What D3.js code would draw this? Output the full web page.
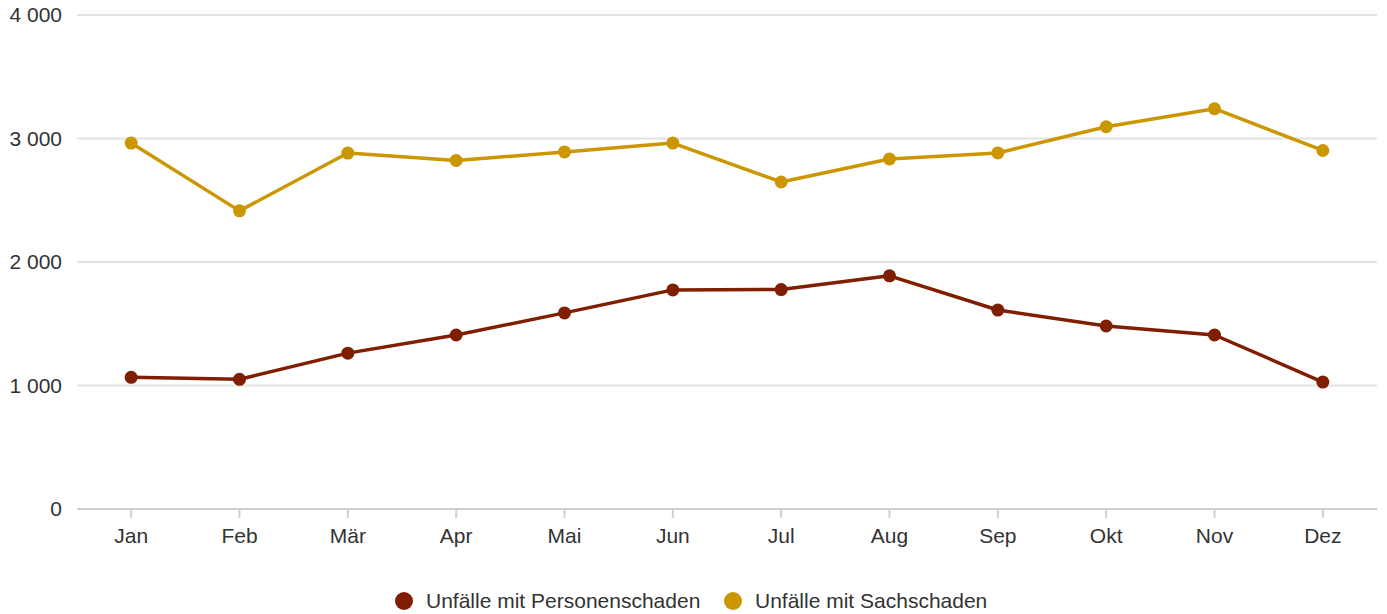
<!DOCTYPE html>
<html>
<head>
<meta charset="utf-8">
<script src="https://cdn.jsdelivr.net/npm/d3@7"></script>
<style>
  body { margin: 0; background: #fff; }
  svg text { font-family: "Liberation Sans", Arial, sans-serif; fill: #333; }
</style>
</head>
<body>
<svg id="chart" width="1387" height="614"></svg>
<script>
// months and series values
var months = ["Jan", "Feb", "Mär", "Apr", "Mai", "Jun", "Jul", "Aug", "Sep", "Okt", "Nov", "Dez"];
var personen = [1066, 1050, 1262, 1409, 1588, 1774, 1777, 1888, 1611, 1482, 1409, 1028];
var sach = [2963, 2414, 2882, 2822, 2891, 2963, 2648, 2834, 2883, 3095, 3241, 2903];
var seriesNames = ["Unfälle mit Personenschaden", "Unfälle mit Sachschaden"];
var seriesColors = ["#7f1e00", "#cc9600"];
var yTicks = [0, 1000, 2000, 3000, 4000];

var svg = d3.select("#chart");
var margin = {top: 15, right: 10, bottom: 105, left: 77},
    width = 1387 - margin.left - margin.right,
    height = 614 - margin.top - margin.bottom;

var g = svg.append("g").attr("transform", "translate(" + margin.left + "," + margin.top + ")");

var x = d3.scaleBand().domain(months).range([0, width]);
var y = d3.scaleLinear().domain([0, 4000]).range([height, 0]);

var fmt = function(d) { return d3.format(",")(d).replace(/,/g, " "); };

// gridlines
g.selectAll(".grid")
    .data(yTicks.filter(function(d) { return d > 0; }))
    .enter().append("line")
    .attr("class", "grid")
    .attr("x1", 0).attr("x2", width)
    .attr("y1", function(d) { return y(d); })
    .attr("y2", function(d) { return y(d); })
    .attr("stroke", "#e3e3e3")
    .attr("stroke-width", 2);

// y axis labels
var yAxis = g.append("g")
    .call(d3.axisLeft(y).tickValues(yTicks).tickFormat(fmt).tickSize(0).tickPadding(15));
yAxis.select(".domain").remove();
yAxis.selectAll("text").style("font-size", "21px").attr("fill", "#333");

// x axis
var xAxis = g.append("g")
    .attr("transform", "translate(0," + height + ")")
    .call(d3.axisBottom(x).tickSize(9).tickPadding(10));
xAxis.select(".domain").attr("stroke", "#cfcfcf").attr("stroke-width", 2).attr("d", "M0,0H" + width);
xAxis.selectAll(".tick line").attr("stroke", "#cfcfcf").attr("stroke-width", 2);
xAxis.selectAll("text").style("font-size", "21px").attr("fill", "#333");

// lines and points
var cx = function(d, i) { return x(months[i]) + x.bandwidth() / 2; };
var line = d3.line().x(cx).y(function(d) { return y(d); });

[personen, sach].forEach(function(values, k) {
    g.append("path")
        .datum(values)
        .attr("fill", "none")
        .attr("stroke", seriesColors[k])
        .attr("stroke-width", 3.5)
        .attr("stroke-linejoin", "round")
        .attr("d", line);

    g.selectAll(".dot" + k)
        .data(values)
        .enter().append("circle")
        .attr("class", "dot" + k)
        .attr("r", 6.5)
        .attr("cx", cx)
        .attr("cy", function(d) { return y(d); })
        .attr("fill", seriesColors[k]);
});

// legend
var legendX = [404, 733];
var legend = svg.selectAll(".legend")
    .data(seriesNames)
    .enter().append("g")
    .attr("class", "legend")
    .attr("transform", function(d, i) { return "translate(" + legendX[i] + ",601)"; });

legend.append("circle")
    .attr("r", 9)
    .attr("fill", function(d, i) { return seriesColors[i]; });

legend.append("text")
    .attr("x", 22)
    .attr("dy", ".35em")
    .style("font-size", "21px")
    .attr("fill", "#333")
    .text(function(d) { return d; });
</script>
</body>
</html>
